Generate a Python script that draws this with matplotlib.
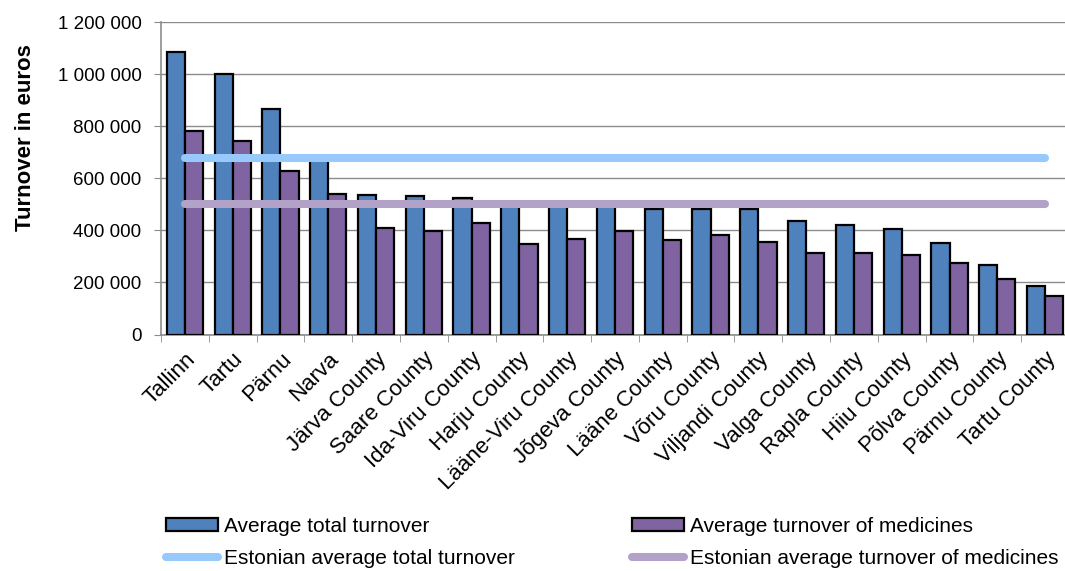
import matplotlib
matplotlib.use("Agg")
import matplotlib.pyplot as plt
from matplotlib.ticker import FuncFormatter, FixedLocator
from matplotlib.patches import Patch
from matplotlib.lines import Line2D
import numpy as np

plt.rcParams['font.family'] = ['Liberation Sans', 'DejaVu Sans']

# data
places = ["Tallinn", "Tartu", "Pärnu", "Narva", "Järva County", "Saare County",
          "Ida-Viru County", "Harju County", "Lääne-Viru County", "Jõgeva County",
          "Lääne County", "Võru County", "Viljandi County", "Valga County",
          "Rapla County", "Hiiu County", "Põlva County", "Pärnu County",
          "Tartu County"]
total_turnover = [1087000, 1000000, 868000, 676000, 538000, 531000, 524000,
                  505000, 500000, 500000, 482000, 481000, 481000, 435000,
                  420000, 405000, 350000, 268000, 186000]
medicine_turnover = [783000, 745000, 628000, 541000, 409000, 399000, 430000,
                     349000, 367000, 398000, 363000, 383000, 355000, 314000,
                     314000, 306000, 276000, 212000, 147000]
estonia_total = 680000
estonia_medicines = 503000

blue = "#4F81BD"
purple = "#8064A2"
light_blue = "#97C9FD"
lavender = "#B3A2C7"
grid_grey = "#8C8C8C"

fig = plt.figure(figsize=(10.65, 5.71), dpi=100)
ax = fig.add_axes([161 / 1065, 236.5 / 571, 908 / 1065, 312.2 / 571])

x = np.arange(len(places))
w = 0.38
ax.bar(x - w / 2, total_turnover, w, color=blue, edgecolor="black", linewidth=1.6, zorder=3)
ax.bar(x + w / 2, medicine_turnover, w, color=purple, edgecolor="black", linewidth=1.6, zorder=3)

ax.plot([x[0], x[-1]], [estonia_total, estonia_total], color=light_blue,
        linewidth=5.8, solid_capstyle="round", zorder=4)
ax.plot([x[0], x[-1]], [estonia_medicines, estonia_medicines], color=lavender,
        linewidth=5.8, solid_capstyle="round", zorder=4)

ax.set_xlim(-0.5, len(places) - 0.5)
ax.set_ylim(0, 1200000)
ax.set_yticks(np.arange(0, 1200001, 200000))
ax.yaxis.set_major_formatter(FuncFormatter(lambda v, p: f"{int(v):,}".replace(",", " ")))
ax.yaxis.grid(True, color=grid_grey, linewidth=1.0, zorder=0)
ax.set_axisbelow(True)

ax.set_xticks(x)
ax.set_xticklabels(places, rotation=45, ha="right", va="top", rotation_mode="anchor")
ax.xaxis.set_minor_locator(FixedLocator(np.arange(-0.5, len(places), 1.0)))
ax.tick_params(axis="x", which="major", length=0, pad=10, labelsize=16)
ax.tick_params(axis="x", which="minor", length=5, color=grid_grey, direction="out")
ax.tick_params(axis="y", length=5, color=grid_grey, pad=9, labelsize=13.5)

for s in ["top", "right"]:
    ax.spines[s].set_visible(False)
for s in ["left", "bottom"]:
    ax.spines[s].set_color(grid_grey)
    ax.spines[s].set_linewidth(1.2)

ax.set_ylabel("Turnover in euros", fontsize=16, fontweight="bold")
ax.yaxis.set_label_coords(-0.138, 0.63)

handles = [
    Patch(facecolor=blue, edgecolor="black", linewidth=1.6),
    Line2D([], [], color=light_blue, linewidth=5.8, solid_capstyle="round"),
    Patch(facecolor=purple, edgecolor="black", linewidth=1.6),
    Line2D([], [], color=lavender, linewidth=5.8, solid_capstyle="round"),
]
labels = ["Average total turnover", "Estonian average total turnover",
          "Average turnover of medicines", "Estonian average turnover of medicines"]
fig.legend(handles, labels, ncol=2, loc="upper left",
           bbox_to_anchor=(166 / 1065, 54 / 571), frameon=False, fontsize=15,
           handlelength=2.5, handleheight=0.55, handletextpad=0.3,
           columnspacing=5.6, labelspacing=0.6, borderpad=0, borderaxespad=0)

fig.savefig("out.png", dpi=100)
